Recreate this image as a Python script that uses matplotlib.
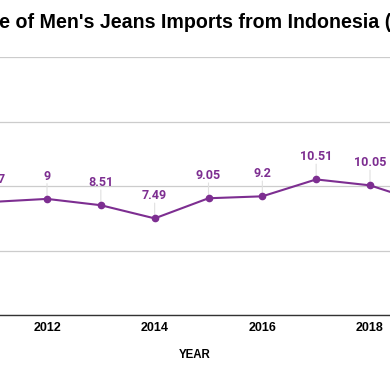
import matplotlib
matplotlib.use("Agg")
import matplotlib.pyplot as plt
import numpy as np

years = [2011, 2012, 2013, 2014, 2015, 2016, 2017, 2018, 2019]
values = [8.77, 9.0, 8.51, 7.49, 9.05, 9.2, 10.51, 10.05, 8.7]
value_labels = ["8.77", "9", "8.51", "7.49", "9.05", "9.2", "10.51", "10.05", "8.7"]
xticks = [2012, 2014, 2016, 2018]
yticks = [0, 5, 10, 15, 20]
title = "Average Price of Men's Jeans Imports from Indonesia (USD)"

purple = "#7d2e91"
W, H = 390, 371

fig = plt.figure(figsize=(W / 100, H / 100), dpi=100)
ax = fig.add_axes([0, 56 / H, 1, 258 / H])

ax.plot(years, values, color=purple, lw=1.5, marker="o", ms=4.5, zorder=3)
for x, v, s in zip(years, values, value_labels):
    ax.annotate("", xy=(x, v), xytext=(0, 11), textcoords="offset points",
                arrowprops=dict(arrowstyle="-", color="#e0e0e0", lw=0.8,
                                shrinkA=0, shrinkB=2), zorder=1,
                annotation_clip=False)
    ax.annotate(s, (x, v), xytext=(0, 11.5), textcoords="offset points",
                ha="center", va="bottom", color=purple, fontsize=9,
                fontfamily="Roboto", fontweight="bold", annotation_clip=False)

ax.set_xlim(2012 - 47 / 53.83, 2018 + 20 / 53.83)
ax.set_ylim(0, 20)
ax.set_xticks(xticks)
ax.set_xticklabels([str(t) for t in xticks], fontfamily="Liberation Sans",
                   fontweight="bold", fontsize=9)
ax.set_yticks(yticks)
ax.set_yticklabels([])
ax.tick_params(axis="both", length=0, pad=5)
ax.grid(axis="y", color="#cccccc", lw=0.9)
ax.set_axisbelow(True)
for side in ["top", "left", "right"]:
    ax.spines[side].set_visible(False)
ax.spines["bottom"].set_color("#333333")
ax.spines["bottom"].set_linewidth(1.0)
ax.set_xlabel("YEAR", fontfamily="Liberation Sans", fontweight="bold",
              fontsize=8.3, labelpad=10.5)

# title: position so that the visible part starts at the left edge
tfont = dict(fontfamily="Liberation Sans", fontweight="bold", fontsize=14.1)
r = fig.canvas.get_renderer()
tmp = fig.text(0, 0, "Average Pric", **tfont)
w = tmp.get_window_extent(renderer=r).width
tmp.remove()
fig.text((-w - 1) / W, 1 - 23 / H, title, va="center", ha="left", **tfont)

fig.savefig("out.png", dpi=100)
